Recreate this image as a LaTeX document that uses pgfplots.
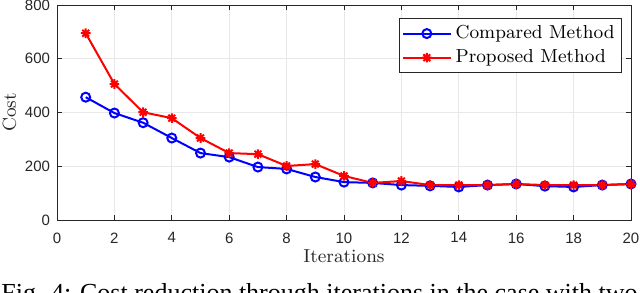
\documentclass[border=0pt]{standalone}
\usepackage{fontspec}
\usepackage{pgfplots}
\pgfplotsset{compat=1.18}
\newfontfamily\helv{Liberation Sans}
\newfontfamily\capfont{Liberation Serif}
\definecolor{axgray}{gray}{0.15}
\pgfdeclareplotmark{mstar}{%
  \pgfpathmoveto{\pgfqpoint{0pt}{\pgfplotmarksize}}\pgfpathlineto{\pgfqpoint{0pt}{-\pgfplotmarksize}}%
  \pgfpathmoveto{\pgfqpoint{\pgfplotmarksize}{0pt}}\pgfpathlineto{\pgfqpoint{-\pgfplotmarksize}{0pt}}%
  \pgfpathmoveto{\pgfqpoint{0.707\pgfplotmarksize}{0.707\pgfplotmarksize}}\pgfpathlineto{\pgfqpoint{-0.707\pgfplotmarksize}{-0.707\pgfplotmarksize}}%
  \pgfpathmoveto{\pgfqpoint{0.707\pgfplotmarksize}{-0.707\pgfplotmarksize}}\pgfpathlineto{\pgfqpoint{-0.707\pgfplotmarksize}{0.707\pgfplotmarksize}}%
  \pgfusepathqstroke}
\pgfplotstableread{
x y
1 457
2 398
3 362
4 305
5 249
6 234
7 197
8 190
9 160
10 141
11 138
12 130
13 127
14 123
15 130
16 134
17 126
18 123
19 130
20 134
}\compared
\pgfplotstableread{
x y
1 695
2 506
3 401
4 379
5 305
6 249
7 245
8 201
9 208
10 164
11 138
12 145
13 130
14 130
15 130
16 134
17 130
18 130
19 130
20 134
}\proposed
\begin{document}
\begin{tikzpicture}
\begin{axis}[
  scale only axis, width=287bp, height=107.5bp,
  xmin=0, xmax=20, ymin=0, ymax=800,
  xtick={0,2,...,20}, ytick={0,200,...,800},
  grid=major, major grid style={color=gray!18, line width=0.4bp},
  axis line style={axgray, line width=0.45bp},
  tick style={axgray, line width=0.45bp},
  major tick length=2.5bp,
  tick align=inside,
  ticklabel style={font=\helv\fontsize{7.5bp}{9bp}\selectfont, text=axgray},
  /pgf/number format/assume math mode=true,
  xticklabel style={yshift=-2.8bp},
  xlabel={Iterations}, ylabel={Cost},
  label style={font=\fontsize{9.4bp}{11bp}\selectfont, text=axgray},
  xlabel style={at={(axis description cs:0.5,0)}, anchor=base, yshift=-21.3bp},
  ylabel style={at={(axis description cs:-0.0829,0.5)}, anchor=center},
  legend style={at={(0.9843,0.9395)}, anchor=north east,
    font=\fontsize{9.4bp}{11bp}\selectfont, draw=axgray, line width=0.45bp,
    inner sep=1.5bp, row sep=0bp},
  legend cell align=left,
  legend image code/.code={\draw[mark repeat=2,mark phase=2] plot coordinates {(0cm,0cm)(0.42cm,0cm)(0.84cm,0cm)};},
]
\addplot[blue, line width=1bp, mark=o, mark size=2.25bp, mark options={solid}] table[x=x,y=y] {\compared};
\addlegendentry{Compared Method}
\addplot[red, line width=1bp, mark=mstar, mark size=2.4bp, mark options={solid}] table[x=x,y=y] {\proposed};
\addlegendentry{Proposed Method}
\end{axis}
\node[anchor=north west, inner sep=0, font=\capfont\fontsize{13bp}{15bp}\selectfont] at (-28bp,-31.5bp) {Fig. 4: Cost reduction through iterations in the case with two};
\pgfresetboundingbox
\path[use as bounding box] (-28.5bp,-36.5bp) rectangle (291.5bp,110bp);
\end{tikzpicture}
\end{document}
